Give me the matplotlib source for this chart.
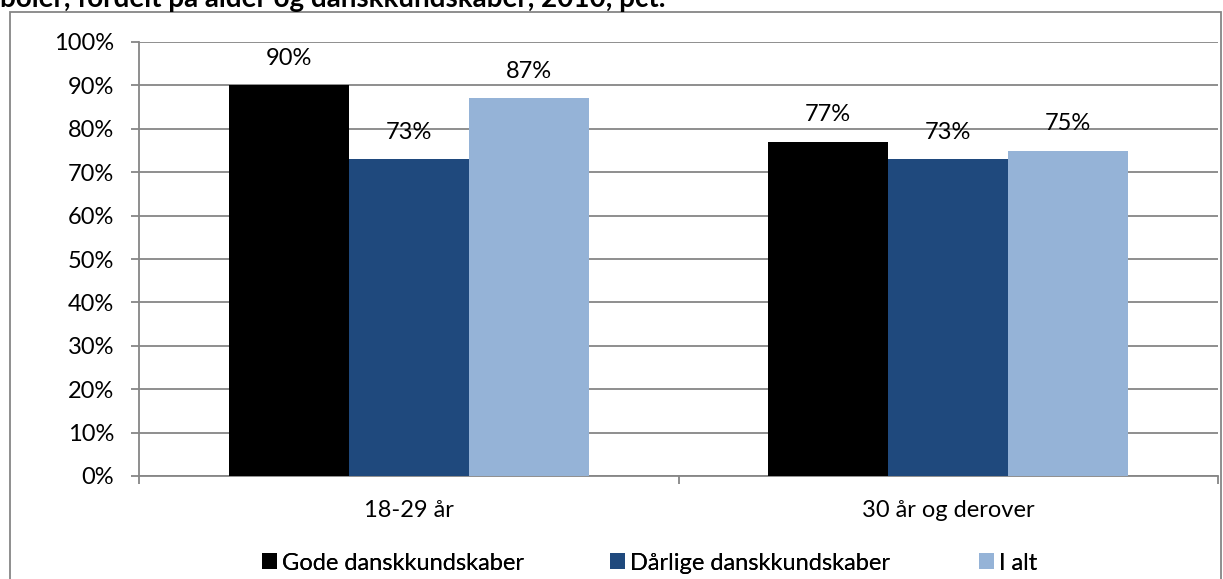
import numpy as np
import matplotlib
matplotlib.use('Agg')
import matplotlib.pyplot as plt
from matplotlib.patches import Rectangle

# data
categories = ['18-29 år', '30 år og derover']
series_names = ['Gode danskkundskaber', 'Dårlige danskkundskaber', 'I alt']
gode = [90, 77]
daarlige = [73, 73]
i_alt = [87, 75]
colors = ['#000000', '#1F497D', '#95B3D7']
title = 'boler, fordelt på alder og danskkundskaber, 2010, pct.'

plt.rcParams['font.family'] = ['Lato', 'DejaVu Sans']
grey = '#868686'
fs = 17

fig = plt.figure(figsize=(12.23, 5.79), dpi=100)
ax = fig.add_axes([139 / 1223, 1 - 476 / 579, (1218 - 139) / 1223, (476 - 42) / 579])

# outer chart frame
fig.patches.append(Rectangle((10 / 1223, -0.05), (1221 - 10) / 1223, 1 - 12 / 579 + 0.05,
                             transform=fig.transFigure, fill=False, edgecolor=grey, linewidth=1.3))

x = np.arange(len(categories))
w = 120 / 539
handles = []
for i, (vals, name) in enumerate(zip([gode, daarlige, i_alt], series_names)):
    bars = ax.bar(x + (i - 1) * w, vals, width=w, color=colors[i], label=name, zorder=3)
    handles.append(bars)
    for b, v in zip(bars, vals):
        ax.annotate(f'{v}%', (b.get_x() + b.get_width() / 2, v), xytext=(0, 27),
                    textcoords='offset pixels', ha='center', va='center', fontsize=fs)

ax.set_xlim(-0.5, 1.5)
ax.set_ylim(0, 100)
ax.set_yticks(np.arange(0, 101, 10))
ax.set_yticklabels([f'{t}%' for t in range(0, 101, 10)], fontsize=fs)
ax.yaxis.grid(True, color=grey, linewidth=1.3, zorder=0)
ax.set_xticks(x)
ax.set_xticklabels(categories, fontsize=fs)
ax.tick_params(axis='x', length=0, pad=17)
ax.set_xticks([-0.5, 0.5, 1.5], minor=True)
ax.tick_params(axis='x', which='minor', length=6, color=grey, width=1.3)
ax.tick_params(axis='y', length=6, color=grey, width=1.3, pad=12)
for s in ['top', 'right']:
    ax.spines[s].set_visible(False)
for s in ['left', 'bottom']:
    ax.spines[s].set_color(grey)
    ax.spines[s].set_linewidth(1.3)

# legend entries placed one by one like the Excel legend
leg_x = [262, 610, 979]
for h, name, lx in zip(handles, series_names, leg_x):
    lg = fig.legend([h], [name], loc='center left', bbox_to_anchor=(lx / 1223, 1 - 563 / 579),
                    frameon=False, fontsize=fs, handlelength=0.65, handleheight=0.65,
                    handletextpad=0.2, borderpad=0, borderaxespad=0)
    fig.add_artist(lg)

fig.text(0.0, 1 - 7 / 579, title, fontsize=20, fontweight='bold', va='baseline', ha='left')

fig.savefig('out.png', dpi=100)
